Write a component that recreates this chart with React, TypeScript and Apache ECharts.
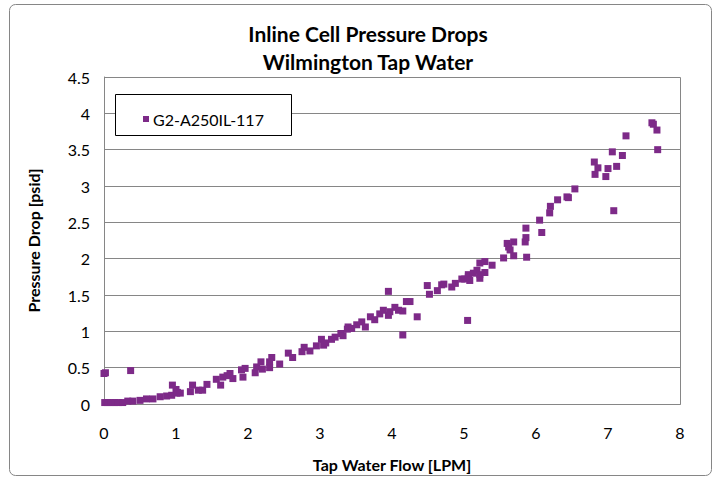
import React, { useEffect, useRef } from "react";
import * as echarts from "echarts";

const seriesName = "G2-A250IL-117";
const titleLines = ["Inline Cell Pressure Drops", "Wilmington Tap Water"];
const xAxisName = "Tap Water Flow [LPM]";
const yAxisName = "Pressure Drop [psid]";

const flowLpm: number[] = [
  0.0, 0.02, 0.37, 0.01, 0.05, 0.1, 0.15, 0.2, 0.26, 0.33, 0.4, 0.5, 0.59, 0.68, 0.78, 0.87, 0.94, 1.01,
  0.95, 1.0, 1.02, 1.06, 1.2, 1.23, 1.31, 1.37, 1.43, 1.56, 1.62, 1.65, 1.71, 1.75, 1.79, 1.91, 1.96, 1.93,
  2.1, 2.12, 2.18, 2.2, 2.3, 2.33, 2.3, 2.44, 2.56, 2.62, 2.75, 2.78, 2.86, 2.95, 3.02, 3.05, 3.08, 3.16,
  3.21, 3.29, 3.32, 3.38, 3.39, 3.44, 3.51, 3.58, 3.63, 3.7, 3.76, 3.83, 3.88, 3.95, 3.97, 3.95, 4.04, 4.09,
  4.15, 4.15, 4.2, 4.25, 4.35, 4.49, 4.52, 4.63, 4.69, 4.72, 4.83, 4.88, 4.97, 5.01, 5.06, 5.05, 5.06, 5.08,
  5.13, 5.18, 5.22, 5.22, 5.29, 5.22, 5.29, 5.39, 5.55, 5.6, 5.62, 5.64, 5.69, 5.69, 5.85, 5.86, 5.86, 5.87,
  6.08, 6.05, 6.19, 6.2, 6.3, 6.43, 6.45, 6.54, 7.08, 6.81, 6.86, 6.82, 7.0, 6.97, 7.06, 7.12, 7.2, 7.25,
  7.61, 7.63, 7.68, 7.69,
];

const pressureDrop: number[] = [
  0.42, 0.43, 0.46, 0.02, 0.02, 0.02, 0.02, 0.02, 0.02, 0.04, 0.04, 0.05, 0.07, 0.07, 0.1, 0.11, 0.12, 0.15,
  0.26, 0.2, 0.16, 0.15, 0.17, 0.26, 0.19, 0.19, 0.27, 0.34, 0.26, 0.37, 0.39, 0.42, 0.35, 0.47, 0.49, 0.37,
  0.43, 0.51, 0.58, 0.48, 0.58, 0.64, 0.5, 0.55, 0.7, 0.64, 0.72, 0.78, 0.73, 0.8, 0.89, 0.81, 0.84, 0.89,
  0.92, 0.97, 0.94, 1.03, 1.06, 1.04, 1.09, 1.13, 1.06, 1.2, 1.16, 1.24, 1.29, 1.22, 1.27, 1.55, 1.33, 1.29,
  1.28, 0.95, 1.41, 1.41, 1.2, 1.63, 1.51, 1.56, 1.64, 1.65, 1.61, 1.66, 1.72, 1.72, 1.78, 1.15, 1.75, 1.7,
  1.8, 1.84, 1.78, 1.73, 1.81, 1.94, 1.96, 1.91, 2.01, 2.21, 2.16, 2.12, 2.23, 2.04, 2.23, 2.29, 2.42, 2.02,
  2.36, 2.53, 2.63, 2.72, 2.81, 2.85, 2.84, 2.96, 2.66, 3.33, 3.25, 3.16, 3.24, 3.13, 3.47, 3.27, 3.42, 3.69,
  3.87, 3.85, 3.77, 3.5,
];

const FONT = "Lato, 'Open Sans', sans-serif";

export default function App() {
  const ref = useRef<HTMLDivElement>(null);
  useEffect(() => {
    if (!ref.current) return;
    const chart = echarts.init(ref.current, undefined, { renderer: "svg" });
    const data = flowLpm.map((x, i) => [x, pressureDrop[i]]);
    chart.setOption({
      animation: false,
      backgroundColor: "#ffffff",
      title: {
        text: titleLines.join("\n"),
        left: 363,
        textAlign: "center",
        top: 14,
        textStyle: { fontFamily: FONT, fontSize: 21, fontWeight: "bold", color: "#000", lineHeight: 28 },
      },
      grid: { left: 104, right: 41, top: 77, bottom: 77 },
      legend: {
        left: 138,
        top: 106,
        z: 20,
        itemWidth: 6,
        itemHeight: 6,
        itemGap: 5,
        icon: "rect",
        textStyle: { fontFamily: FONT, fontSize: 16, color: "#000", padding: [0, 0, 0, -1] },
        data: [seriesName],
      },
      xAxis: {
        type: "value",
        min: 0,
        max: 8,
        interval: 1,
        name: xAxisName,
        nameLocation: "middle",
        nameGap: 52,
        nameTextStyle: { fontFamily: FONT, fontSize: 16, fontWeight: "bold", color: "#000" },
        axisLine: { show: true, lineStyle: { color: "#868686", width: 1 } },
        axisTick: { show: false },
        axisLabel: { fontFamily: FONT, fontSize: 16, color: "#000", margin: 20 },
        splitLine: { show: false },
      },
      yAxis: {
        type: "value",
        min: 0,
        max: 4.5,
        interval: 0.5,
        name: yAxisName,
        nameLocation: "middle",
        nameGap: 63,
        nameTextStyle: { fontFamily: FONT, fontSize: 16, fontWeight: "bold", color: "#000" },
        axisLine: { show: true, lineStyle: { color: "#868686", width: 1 } },
        axisTick: { show: false },
        axisLabel: { fontFamily: FONT, fontSize: 16, color: "#000", margin: 14 },
        splitLine: { show: true, lineStyle: { color: "#868686", width: 1 } },
      },
      graphic: [
        {
          type: "rect",
          shape: { x: 9.5, y: 4.5, width: 702, height: 471, r: 6 },
          style: { fill: "none", stroke: "#868686", lineWidth: 1 },
          z: 0,
        },
        {
          type: "rect",
          shape: { x: 104.5, y: 77.5, width: 576, height: 327 },
          style: { fill: "none", stroke: "#868686", lineWidth: 1 },
          z: 1,
        },
        {
          type: "rect",
          shape: { x: 115.5, y: 94.5, width: 176, height: 41 },
          style: { fill: "#fff", stroke: "#000", lineWidth: 1 },
          z: 5,
        },
      ],
      series: [
        {
          name: seriesName,
          type: "scatter",
          symbol: "rect",
          symbolSize: 7,
          itemStyle: { color: "#7D2A88", opacity: 1 },
          data,
          z: 3,
        },
      ],
    });
    return () => chart.dispose();
  }, []);
  return <div ref={ref} style={{ position: "absolute", left: 0, top: 0, width: 721, height: 481 }} />;
}
